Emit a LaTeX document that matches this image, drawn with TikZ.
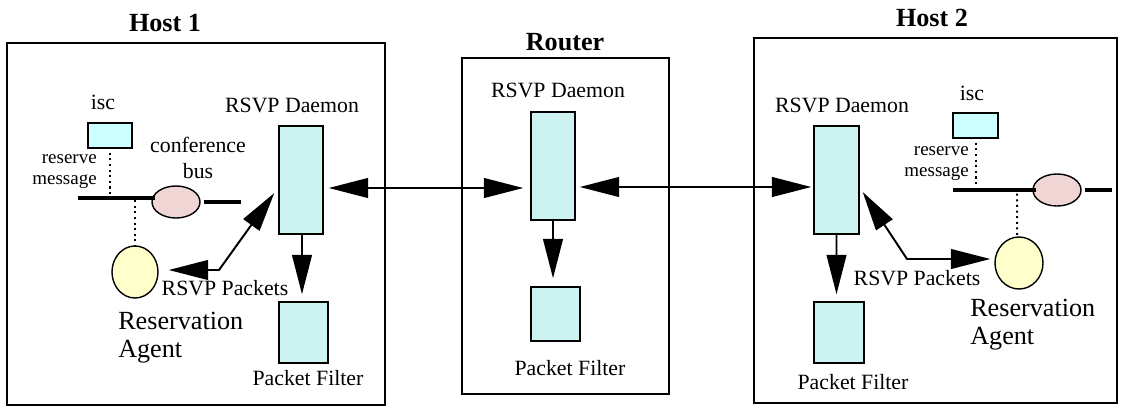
\documentclass[tikz,border=0pt]{standalone}
\usepackage{fontspec}
\setmainfont{Liberation Serif}
\usetikzlibrary{arrows.meta,shapes.geometric}

\definecolor{daemonfill}{HTML}{CCF2F2}
\definecolor{iscfill}{HTML}{CCFFFF}
\definecolor{busfill}{HTML}{F0D5D5}
\definecolor{agentfill}{HTML}{FFFFCC}

\begin{document}
\begin{tikzpicture}[x=0.025cm, y=-0.025cm,
    >={Triangle[length=28pt,width=14pt]},
    txt/.style={font=\fontsize{15.5}{19}\selectfont, inner sep=0pt},
    small/.style={font=\fontsize{13.5}{15}\selectfont, inner sep=0pt, align=right},
    big/.style={font=\fontsize{18.6}{20}\selectfont, inner sep=0pt, align=left},
    title/.style={font=\fontsize{18.6}{20}\selectfont\bfseries, inner sep=0pt},
    frame/.style={draw, line width=1pt},
    unit/.style={draw, line width=1pt, fill=daemonfill, inner sep=0pt},
    iscbox/.style={draw, line width=1pt, fill=iscfill, inner sep=0pt, minimum width=1.1cm, minimum height=0.625cm},
    busnode/.style={draw, ellipse, line width=1pt, fill=busfill, inner sep=0pt, minimum width=1.2cm, minimum height=0.8cm},
    agent/.style={draw, ellipse, line width=1pt, fill=agentfill, inner sep=0pt, minimum width=1.15cm, minimum height=1.3cm},
    link/.style={line width=1.4pt},
    bus/.style={line width=2.8pt},
    dots/.style={line width=1.4pt, dash pattern=on 1.5pt off 2.5pt}]

  \useasboundingbox (0,0) rectangle (1122,408);

  % frames
  \draw[frame] (7,43) rectangle (385,405);
  \draw[frame] (462,58) rectangle (669,394);
  \draw[frame] (754,38) rectangle (1117,403);
  \node[title] (host1) at (165,23) {Host 1};
  \node[title] (router) at (565,42) {Router};
  \node[title] (host2) at (932,18) {Host 2};

  % Host 1
  \node[unit, minimum width=1.1cm, minimum height=2.7cm] (d1) at (301,180) {};
  \node[unit, minimum width=1.225cm, minimum height=1.525cm] (f1) at (303.5,332.5) {};
  \node[iscbox] (i1) at (110,135.5) {};
  \node[busnode] (b1) at (176,202) {};
  \node[agent] (a1) at (135,272) {};
  \node[txt] (d1lbl) at (292,105) {RSVP Daemon};
  \node[txt] (f1lbl) at (308,378) {Packet Filter};
  \node[txt] (i1lbl) at (103,102) {isc};
  \node[small, anchor=east] (m1lbl) at (97,172) {reserve\\message};
  \node[txt, align=center] (b1lbl) at (198,158) {conference\\bus};
  \node[txt] (p1lbl) at (225,288) {RSVP Packets};
  \node[big, anchor=west] (a1lbl) at (118,338) {Reservation\\Agent};

  \coordinate (bl1) at (78,198);
  \coordinate (br1) at (241,202);
  \coordinate (k1) at (219,270);
  \draw[bus] (bl1) -- ([xshift=0.1cm]bl1 -| b1.west);
  \draw[bus, shorten <=2pt] (b1.east) -- (br1);
  \draw[dots] ([yshift=-0.1cm]i1.south) -- ([yshift=0.075cm]i1.south |- bl1);
  \draw[dots] ([yshift=-0.05cm]a1.north |- bl1) -- (a1.north);
  \draw[link, <->] ([shift={(-4,13)}]d1.west) -- (k1) -- ([shift={(10,-2)}]a1.east);
  \draw[link, ->, shorten >=0.175cm] ([xshift=0.025cm]d1.south) -- ([xshift=-0.0375cm]f1.north);

  % Router
  \node[unit, minimum width=1.1cm, minimum height=2.7cm] (dr) at (553,166) {};
  \node[unit, minimum width=1.225cm, minimum height=1.35cm] (fr) at (555.5,314) {};
  \node[txt] (drlbl) at (558,90) {RSVP Daemon};
  \node[txt] (frlbl) at (570,368) {Packet Filter};
  \draw[link, ->, shorten >=0.2cm] (dr.south) -- ([xshift=-0.0625cm]fr.north);

  % Host 2
  \node[unit, minimum width=1.125cm, minimum height=2.7cm] (d2) at (836.5,180) {};
  \node[unit, minimum width=1.25cm, minimum height=1.525cm] (f2) at (839,332.5) {};
  \node[iscbox, minimum width=1.125cm] (i2) at (975.5,125.5) {};
  \node[busnode] (b2) at (1057,190) {};
  \node[agent, minimum width=1.2cm] (a2) at (1019,263) {};
  \node[txt] (d2lbl) at (842,105) {RSVP Daemon};
  \node[txt] (f2lbl) at (853,382) {Packet Filter};
  \node[txt] (i2lbl) at (972,93) {isc};
  \node[small, anchor=east] (m2lbl) at (969,164) {reserve\\message};
  \node[txt] (p2lbl) at (917,278) {RSVP Packets};
  \node[big, anchor=west] (a2lbl) at (970,325) {Reservation\\Agent};

  \coordinate (bl2) at (953,190);
  \coordinate (br2) at (1112,190);
  \coordinate (k2) at (907,259);
  \draw[bus] (bl2) -- ([xshift=0.1cm]b2.west);
  \draw[bus, shorten <=2pt] (b2.east) -- (br2);
  \draw[dots] ([yshift=-0.1cm]i2.south) -- ([yshift=0.075cm]i2.south |- bl2);
  \draw[dots] ([shift={(-2,-2)}]a2.north |- bl2) -- ([xshift=-0.05cm]a2.north);
  \draw[link, <->] ([shift={(3,12)}]d2.east) -- (k2) -- ([shift={(-4,-4)}]a2.west);
  \draw[link, ->, shorten >=0.175cm] (d2.south) -- ([xshift=-0.0625cm]f2.north);

  % links between daemons
  \draw[link, <->] ([shift={(5,8)}]d1.east) -- ([shift={(-7,22)}]dr.west);
  \draw[link, <->] ([shift={(4,21)}]dr.east) -- ([shift={(-2,7)}]d2.west);

\end{tikzpicture}
\end{document}
